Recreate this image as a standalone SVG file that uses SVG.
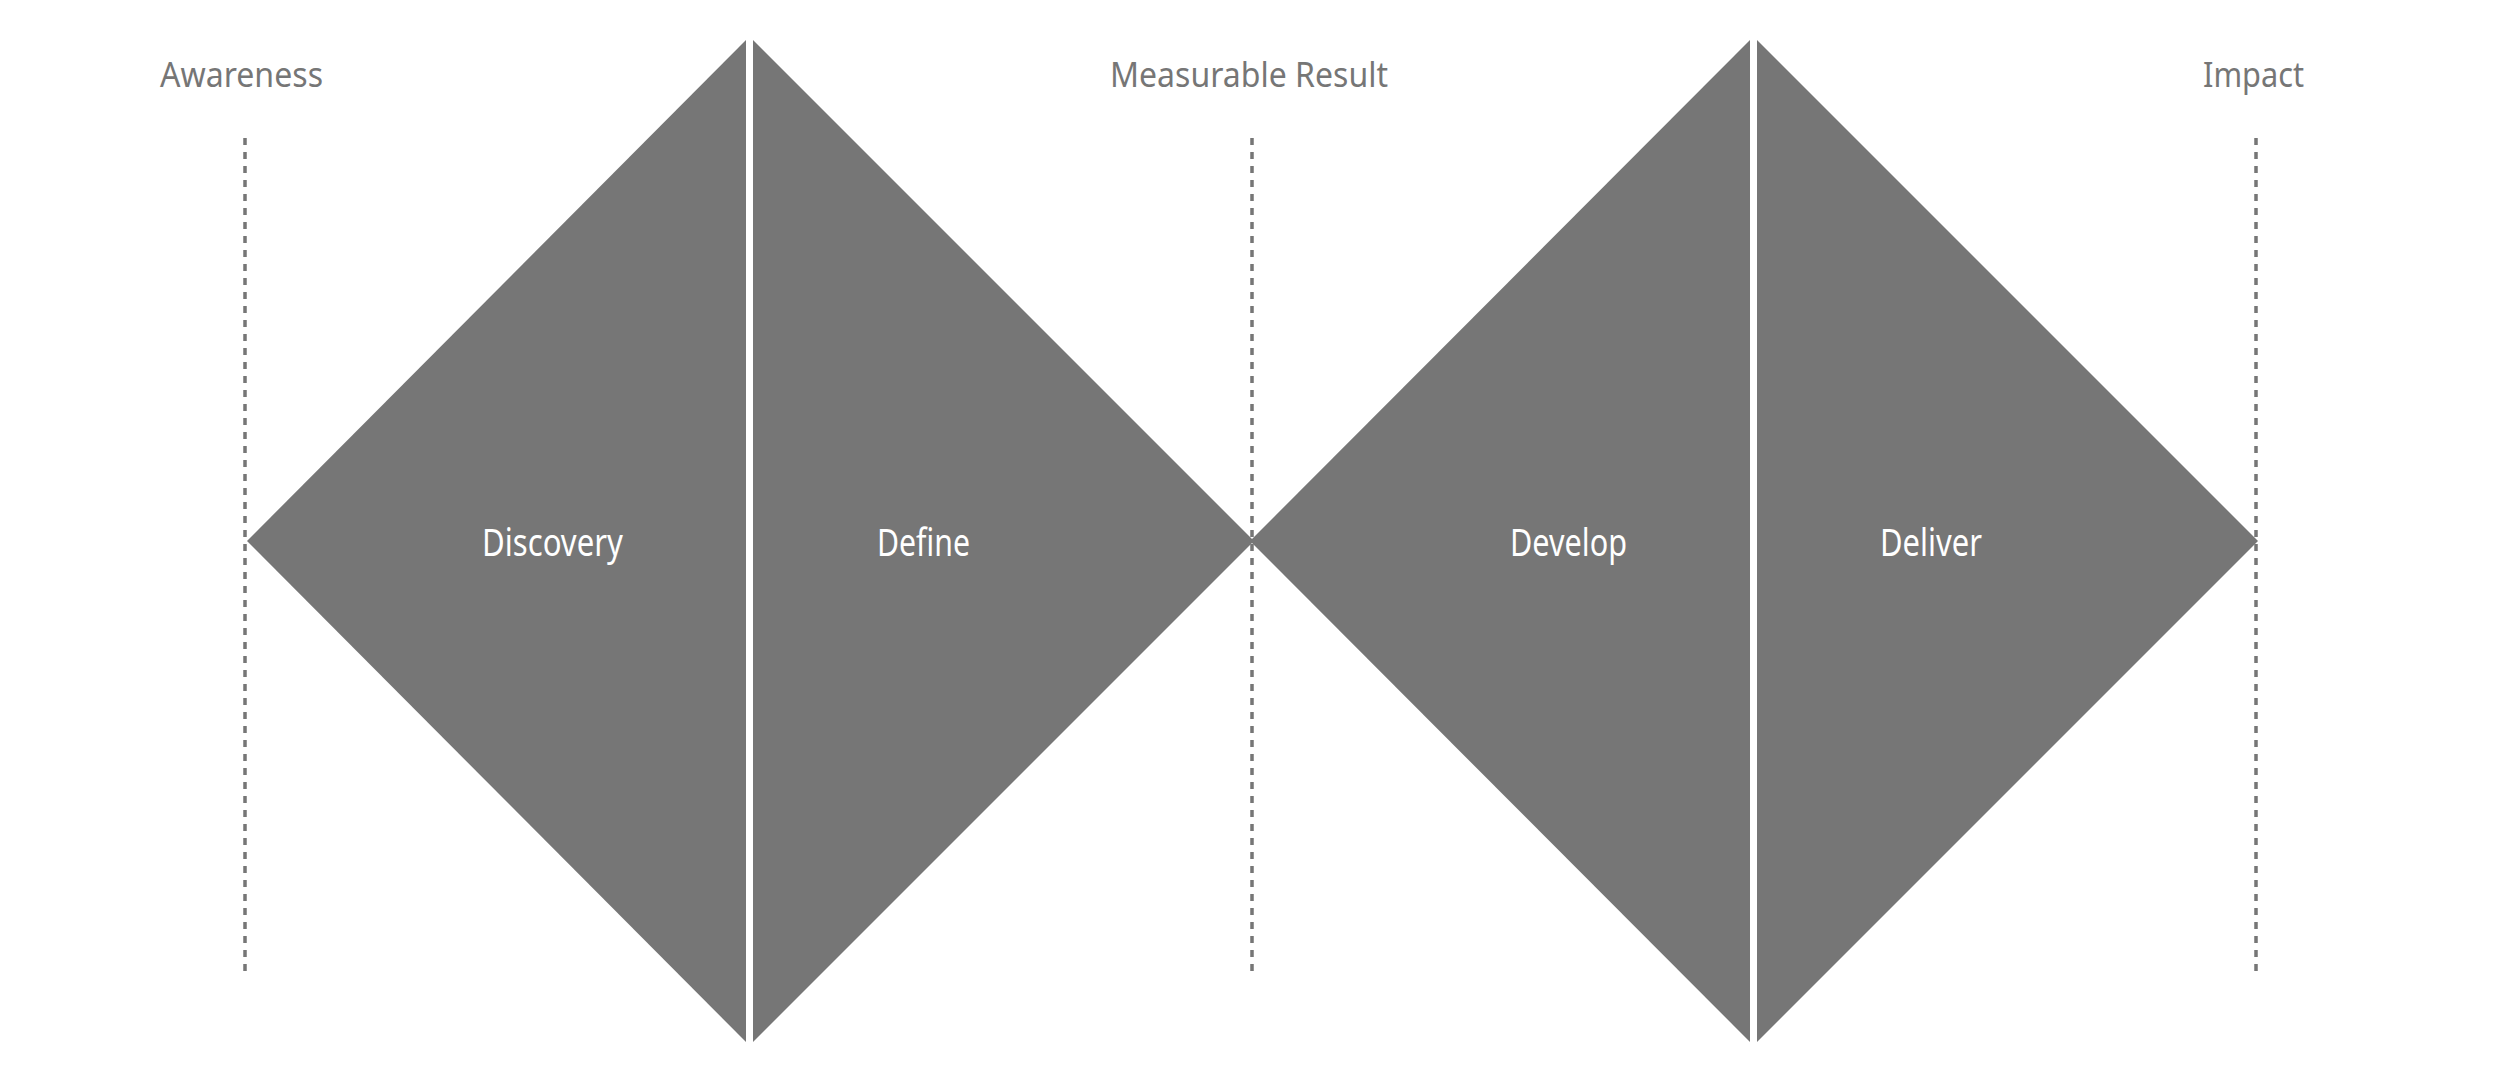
<svg xmlns="http://www.w3.org/2000/svg" width="2500" height="1073" viewBox="0 0 2500 1073">
<style>
.tri{fill:#767676;stroke:none}
.dash{stroke:#767676;stroke-width:3.5;stroke-dasharray:7 7;fill:none}
.top{font-family:"Noto Sans","Open Sans",sans-serif;font-size:34px;fill:#767676}
.lbl{font-family:"Noto Sans","Open Sans",sans-serif;font-size:38px;fill:#ffffff}
</style>
<rect width="2500" height="1073" fill="#ffffff"/>
<g id="connectors">
<line class="dash" x1="245" y1="138" x2="245" y2="973"/>
<line class="dash" x1="1252" y1="138" x2="1252" y2="973"/>
<line class="dash" x1="2256" y1="138" x2="2256" y2="973"/>
</g>
<g id="discovery">
<polygon class="tri" points="247,541 746,40 746,1042"/>
<text class="lbl" x="482" y="556" textLength="141" lengthAdjust="spacingAndGlyphs">Discovery</text>
</g>
<g id="define">
<polygon class="tri" points="753,40 753,1042 1254,541"/>
<text class="lbl" x="877" y="556" textLength="93" lengthAdjust="spacingAndGlyphs">Define</text>
</g>
<g id="develop">
<polygon class="tri" points="1250,541 1750,40 1750,1042"/>
<text class="lbl" x="1510" y="556" textLength="117" lengthAdjust="spacingAndGlyphs">Develop</text>
</g>
<g id="deliver">
<polygon class="tri" points="1757,40 1757,1042 2258,541"/>
<text class="lbl" x="1880" y="556" textLength="102" lengthAdjust="spacingAndGlyphs">Deliver</text>
</g>
<g id="awareness">
<text class="top" x="160" y="87" textLength="163" lengthAdjust="spacingAndGlyphs">Awareness</text>
</g>
<g id="measurable-result">
<text class="top" x="1110" y="87" textLength="278" lengthAdjust="spacingAndGlyphs">Measurable Result</text>
</g>
<g id="impact">
<text class="top" x="2203" y="87" textLength="101" lengthAdjust="spacingAndGlyphs">Impact</text>
</g>
</svg>
